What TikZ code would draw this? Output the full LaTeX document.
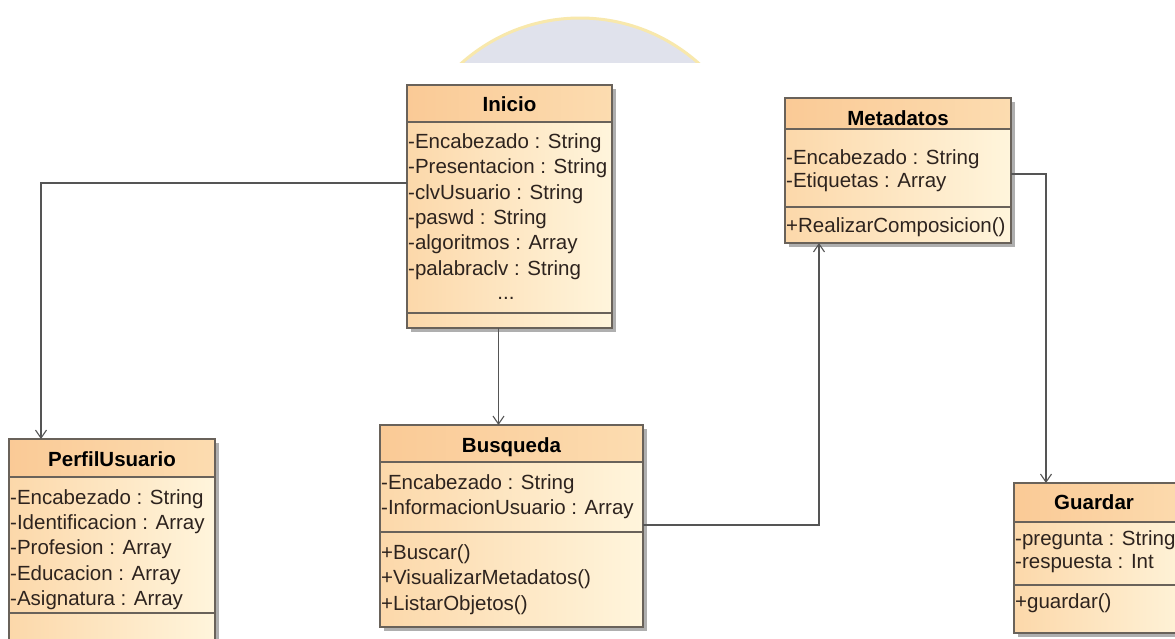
\documentclass[tikz,border=0pt]{standalone}
\usepackage{fontspec}
\setmainfont{Liberation Sans}
\usetikzlibrary{arrows.meta,calc}

\definecolor{boxline}{RGB}{105,98,90}
\definecolor{boxshadow}{RGB}{175,175,175}
\definecolor{titleL}{RGB}{250,202,150}
\definecolor{titleR}{RGB}{252,220,176}
\definecolor{bodyL}{RGB}{252,216,170}
\definecolor{bodyR}{RGB}{255,245,220}
\definecolor{connline}{RGB}{85,85,85}
\definecolor{membertext}{RGB}{45,35,30}
\definecolor{wmfill}{RGB}{224,226,236}
\definecolor{wmrim}{RGB}{248,232,172}

\tikzset{
  x=1pt, y=-1pt,
  classbox/.style={rectangle, draw=boxline, line width=1.1pt, inner sep=0pt,
    outer sep=0pt, anchor=north west, left color=bodyL, right color=bodyR},
  boxedge/.style={draw=boxline, line width=1.1pt},
  titleshade/.style={left color=titleL, right color=titleR},
  classtitle/.style={anchor=base, inner sep=0pt, text=black,
    font=\fontsize{20.5}{25}\selectfont\bfseries},
  member/.style={anchor=base west, inner sep=0pt, text=membertext,
    font=\fontsize{20.5}{25}\selectfont},
  conn/.style={draw=connline, line width=1.3pt,
    -{Straight Barb[length=8pt,width=11pt,line width=1.1pt]}},
}

% \umlclass{name}{x1}{y1}{x2}{y2}{title rule y}{operations rule y}
\newcommand\umlclass[7]{%
  \fill[boxshadow] (#2+4,#3+4) rectangle (#4+4,#5+4);
  \node[classbox, minimum width={(#4-#2)*1pt}, minimum height={(#5-#3)*1pt}]
    (#1) at (#2,#3) {};
  \shade[titleshade] (#2,#3) rectangle (#4,#6);
  \draw[boxedge] (#2,#6) -- (#4,#6);
  \draw[boxedge] (#2,#7) -- (#4,#7);
  \draw[boxedge] (#1.north west) rectangle (#1.south east);
}
% \umlmember{name}{x}{baseline}{text}
\newcommand\umlmember[4]{\node[member] (#1) at (#2,#3) {#4};}

\begin{document}
\begin{tikzpicture}
\useasboundingbox (0,0) rectangle (1175,638);
\clip (0,0) rectangle (1175,638);
\fill[white] (0,0) rectangle (1175,638);

% faint seal behind the top of the sheet
\begin{scope}
  \clip (0,0) rectangle (1175,62);
  \fill[wmfill, draw=wmrim, line width=3pt] (580,196) circle[radius=178pt];
\end{scope}

% classes
\umlclass{inicio}{407}{85}{612}{328}{122}{313}
\node[classtitle] (inicio-t) at (509.5,111) {Inicio};
\umlmember{inicio-a1}{408}{148.5}{-Encabezado : String}
\umlmember{inicio-a2}{408}{173.8}{-Presentacion : String}
\umlmember{inicio-a3}{408}{199.1}{-clvUsuario : String}
\umlmember{inicio-a4}{408}{224.4}{-paswd : String}
\umlmember{inicio-a5}{408}{249.7}{-algoritmos : Array}
\umlmember{inicio-a6}{408}{275}{-palabraclv : String}
\node[member, anchor=base] (inicio-more) at (506,299) {...};

\umlclass{meta}{785}{98}{1011}{243}{129}{207}
\node[classtitle] (meta-t) at (898,125) {Metadatos};
\umlmember{meta-a1}{786}{164}{-Encabezado : String}
\umlmember{meta-a2}{786}{187}{-Etiquetas : Array}
\umlmember{meta-o1}{786}{232}{+RealizarComposicion()}

\umlclass{perfil}{9}{439}{215}{680}{477}{613}
\node[classtitle] (perfil-t) at (112,466) {PerfilUsuario};
\umlmember{perfil-a1}{10}{504}{-Encabezado : String}
\umlmember{perfil-a2}{10}{529.3}{-Identificacion : Array}
\umlmember{perfil-a3}{10}{554.6}{-Profesion : Array}
\umlmember{perfil-a4}{10}{580}{-Educacion : Array}
\umlmember{perfil-a5}{10}{605.2}{-Asignatura : Array}

\umlclass{busq}{380}{425}{643}{627}{462}{532}
\node[classtitle] (busq-t) at (511.5,452) {Busqueda};
\umlmember{busq-a1}{381}{489}{-Encabezado : String}
\umlmember{busq-a2}{381}{514.5}{-InformacionUsuario : Array}
\umlmember{busq-o1}{381}{559}{+Buscar()}
\umlmember{busq-o2}{381}{584.5}{+VisualizarMetadatos()}
\umlmember{busq-o3}{381}{610}{+ListarObjetos()}

\umlclass{guardar}{1014}{483}{1200}{633}{522}{585}
\node[classtitle] (guardar-t) at (1094,509) {Guardar};
\umlmember{guardar-a1}{1015}{545}{-pregunta : String}
\umlmember{guardar-a2}{1015}{568}{-respuesta : Int}
\umlmember{guardar-o1}{1015}{608}{+guardar()}

% associations
\draw[conn] ([yshift=-98pt]inicio.north west) -| ([xshift=32pt]perfil.north west);
\draw[conn] ([xshift=-11pt]inicio.south) -- ([xshift=-11pt]inicio.south |- busq.north);
\draw[conn] ([yshift=-100pt]busq.north east) -| ([xshift=34pt]meta.south west);
\draw[conn] ([yshift=-76pt]meta.north east) -| ([xshift=32pt]guardar.north west);
\end{tikzpicture}
\end{document}
